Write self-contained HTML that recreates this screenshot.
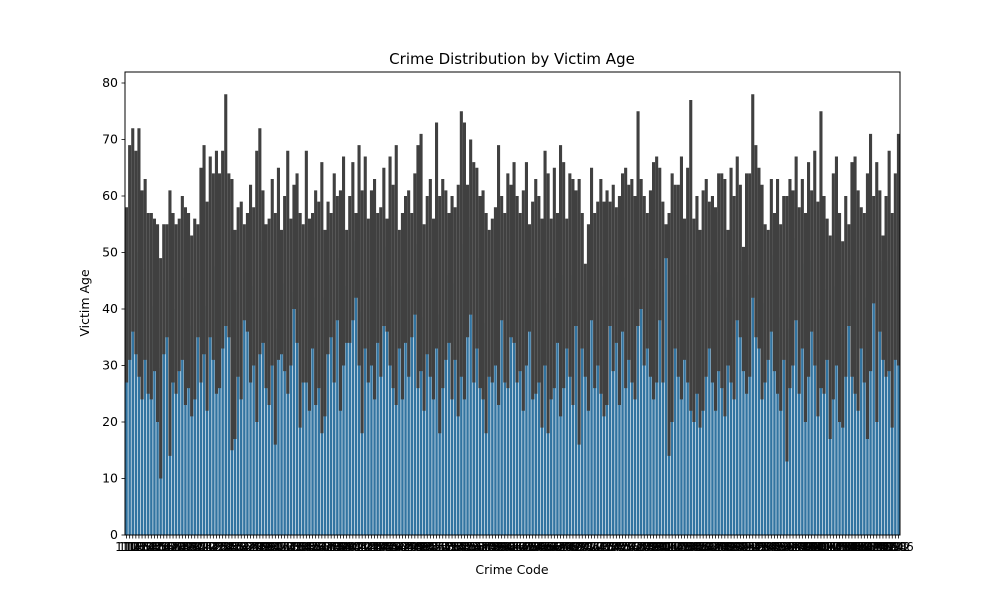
<!DOCTYPE html>
<html><head><meta charset="utf-8"><style>
body{margin:0;background:#fff;font-family:"Liberation Sans","DejaVu Sans",sans-serif}
svg text{font-family:"DejaVu Sans","Liberation Sans",sans-serif}
</style></head><body>
<svg id="chart" width="1000" height="600" xmlns="http://www.w3.org/2000/svg">
<rect width="1000" height="600" fill="#fff"/>
<text x="512" y="64" font-size="15" text-anchor="middle">Crime Distribution by Victim Age</text>
<text x="512" y="574" font-size="12.5" text-anchor="middle">Crime Code</text>
<text x="89" y="303" font-size="12.5" text-anchor="middle" transform="rotate(-90 89 303)">Victim Age</text>
<g id="bars"></g>
<g id="errs"></g>
<g id="yaxis"></g>
<g id="xaxis"></g>
<rect x="125" y="72" width="775" height="463" fill="none" stroke="#000" stroke-width="1"/>
</svg>
<script>
const highs = [58,69,72,68,72,61,63,57,57,56,55,49,55,55,61,57,55,56,60,58,57,53,56,55,65,
69,59,67,64,68,64,68,78,64,63,54,58,59,55,57,62,58,68,72,61,55,56,63,57,65,
54,60,68,56,62,64,57,55,68,56,57,61,59,66,54,59,57,64,60,61,67,54,60,66,57,
69,61,67,56,61,63,57,58,65,56,67,62,69,54,57,60,61,57,64,69,71,55,60,63,56,
73,60,63,61,57,60,58,62,75,73,62,70,66,65,60,61,57,54,56,58,69,60,57,64,62,
66,60,57,61,66,55,59,63,60,56,68,64,56,65,57,69,66,56,64,63,61,63,57,48,55,
65,57,59,63,59,61,59,62,58,60,64,65,62,63,60,75,63,60,57,61,66,67,65,59,55,
57,64,62,62,67,56,65,77,56,60,54,61,63,59,60,58,64,64,63,54,65,60,67,62,51,
64,64,78,69,65,62,55,54,63,57,63,55,60,60,63,61,67,58,63,57,66,61,68,59,75,
60,56,53,64,67,57,52,60,55,66,67,61,58,57,64,71,60,66,61,53,60,68,57,64,71];
const lows = [27,31,36,32,28,24,31,25,24,29,20,10,32,35,14,27,25,29,31,23,26,21,24,35,27,
32,22,35,31,25,26,33,37,35,15,17,28,24,38,36,27,30,20,32,34,26,23,30,16,31,
32,29,25,30,40,34,19,27,27,22,33,23,26,18,21,32,35,27,38,22,30,34,34,38,42,
30,18,33,27,30,24,34,28,37,36,30,26,23,33,24,34,28,35,39,26,29,22,32,28,24,
33,18,26,31,34,24,31,21,28,24,35,39,27,33,26,24,18,28,27,30,23,38,27,26,35,
34,27,29,22,30,36,24,25,27,19,30,18,24,26,34,21,26,33,28,23,37,16,33,28,22,
38,26,30,25,21,23,37,29,34,23,36,26,31,27,24,37,40,30,33,28,24,27,38,27,49,
14,20,33,28,24,31,27,22,20,25,19,22,28,33,27,22,29,26,21,30,27,24,38,35,29,
25,28,42,35,33,24,27,31,36,29,25,22,31,13,26,30,38,25,33,20,28,36,30,21,26,
25,31,17,24,30,20,19,28,37,28,25,22,33,27,17,29,41,20,36,31,28,29,19,31,30];
const yTicks = [0,10,20,30,40,50,60,70,80];
const codes = [];
for (let i = 0; i < highs.length; i++) codes.push(String(110 + i * 4));

const NS = "http://www.w3.org/2000/svg";
const X0 = 125, X1 = 900, Y0 = 535, Y80 = 83;
const y = v => Y0 - (v / 80) * (Y0 - Y80);
const slot = (X1 - X0) / highs.length;
const x = i => X0 + slot * i;
function mk(tag, attrs, parent) {
  const e = document.createElementNS(NS, tag);
  for (const k in attrs) e.setAttribute(k, attrs[k]);
  parent.appendChild(e);
  return e;
}
const bars = document.getElementById('bars'), errs = document.getElementById('errs');
const xa = document.getElementById('xaxis'), ya = document.getElementById('yaxis');
for (let i = 0; i < highs.length; i++) {
  const mean = (highs[i] + lows[i]) / 2;
  const b = mk('rect', {x: x(i) + slot * 0.1, y: y(mean), width: slot * 0.8, height: Y0 - y(mean), fill: '#3274a1'}, bars);
  
  
  const e = mk('line', {x1: x(i) + slot / 2, x2: x(i) + slot / 2, y1: y(lows[i]), y2: y(highs[i]), stroke: '#404040', 'stroke-width': 3.1}, errs);
  
  
  const t = mk('line', {x1: x(i) + slot / 2, x2: x(i) + slot / 2, y1: Y0, y2: Y0 + 3.5, stroke: '#000', 'stroke-width': 0.8}, xa);
  
  
  const l = mk('text', {x: x(i) + slot / 2, y: Y0 + 16, 'font-size': 12, 'text-anchor': 'middle'}, xa);
  
  
  l.textContent = codes[i];
}
yTicks.forEach(v => {
  const t = mk('line', {x1: X0 - 3.5, x2: X0, y1: y(v), y2: y(v), stroke: '#000', 'stroke-width': 0.8}, ya);
  
  
  const l = mk('text', {x: X0 - 7, y: y(v) + 4, 'font-size': 12.5, 'text-anchor': 'end'}, ya);
  
  
  l.textContent = v;
});
</script>
</body></html>
